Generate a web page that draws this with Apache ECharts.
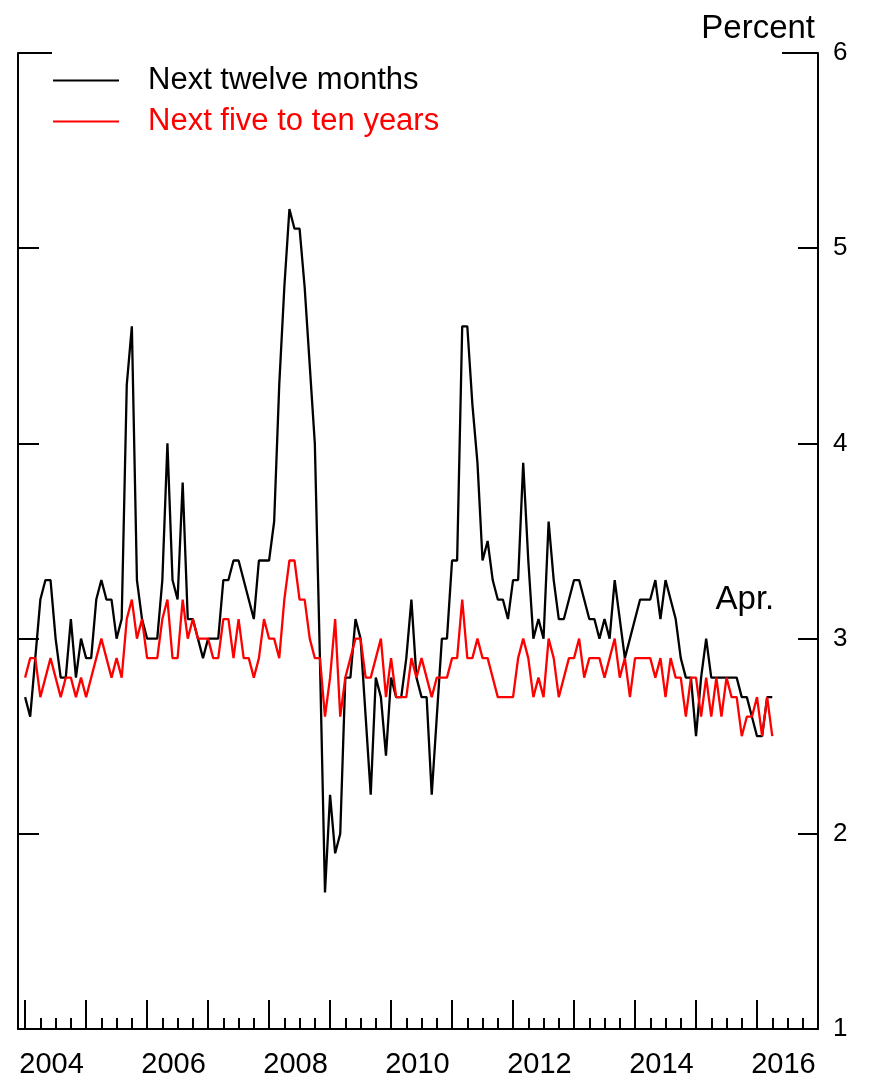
<!DOCTYPE html>
<html>
<head>
<meta charset="utf-8">
<script src="https://cdn.jsdelivr.net/npm/echarts@6/dist/echarts.min.js"></script>
<style>
html,body{margin:0;padding:0;background:#fff;}
#chart{width:869px;height:1082px;}
</style>
</head>
<body>
<div id="chart"></div>
<script>
// ---- data (monthly, starting January 2004) ----
const startYear = 2004;
const seriesNames = ['Next twelve months', 'Next five to ten years'];
const yearLabels = ['2004', '2006', '2008', '2010', '2012', '2014', '2016'];
const yTicks = [1, 2, 3, 4, 5, 6];
const endNote = 'Apr.';
const unitLabel = 'Percent';

const nextTwelveMonths = [
  2.7, 2.6, 2.9, 3.2, 3.3, 3.3, 3.0, 2.8, 2.8, 3.1, 2.8, 3.0,   // 2004
  2.9, 2.9, 3.2, 3.3, 3.2, 3.2, 3.0, 3.1, 4.3, 4.6, 3.3, 3.1,   // 2005
  3.0, 3.0, 3.0, 3.3, 4.0, 3.3, 3.2, 3.8, 3.1, 3.1, 3.0, 2.9,   // 2006
  3.0, 3.0, 3.0, 3.3, 3.3, 3.4, 3.4, 3.3, 3.2, 3.1, 3.4, 3.4,   // 2007
  3.4, 3.6, 4.3, 4.8, 5.2, 5.1, 5.1, 4.8, 4.4, 4.0, 2.9, 1.7,   // 2008
  2.2, 1.9, 2.0, 2.8, 2.8, 3.1, 3.0, 2.6, 2.2, 2.8, 2.7, 2.4,   // 2009
  2.8, 2.7, 2.7, 2.9, 3.2, 2.8, 2.7, 2.7, 2.2, 2.6, 3.0, 3.0,   // 2010
  3.4, 3.4, 4.6, 4.6, 4.2, 3.9, 3.4, 3.5, 3.3, 3.2, 3.2, 3.1,   // 2011
  3.3, 3.3, 3.9, 3.4, 3.0, 3.1, 3.0, 3.6, 3.3, 3.1, 3.1, 3.2,   // 2012
  3.3, 3.3, 3.2, 3.1, 3.1, 3.0, 3.1, 3.0, 3.3, 3.1, 2.9, 3.0,   // 2013
  3.1, 3.2, 3.2, 3.2, 3.3, 3.1, 3.3, 3.2, 3.1, 2.9, 2.8, 2.8,   // 2014
  2.5, 2.8, 3.0, 2.8, 2.8, 2.8, 2.8, 2.8, 2.8, 2.7, 2.7, 2.6,   // 2015
  2.5, 2.5, 2.7, 2.7                                            // 2016
];

const nextFiveToTenYears = [
  2.8, 2.9, 2.9, 2.7, 2.8, 2.9, 2.8, 2.7, 2.8, 2.8, 2.7, 2.8,   // 2004
  2.7, 2.8, 2.9, 3.0, 2.9, 2.8, 2.9, 2.8, 3.1, 3.2, 3.0, 3.1,   // 2005
  2.9, 2.9, 2.9, 3.1, 3.2, 2.9, 2.9, 3.2, 3.0, 3.1, 3.0, 3.0,   // 2006
  3.0, 2.9, 2.9, 3.1, 3.1, 2.9, 3.1, 2.9, 2.9, 2.8, 2.9, 3.1,   // 2007
  3.0, 3.0, 2.9, 3.2, 3.4, 3.4, 3.2, 3.2, 3.0, 2.9, 2.9, 2.6,   // 2008
  2.8, 3.1, 2.6, 2.8, 2.9, 3.0, 3.0, 2.8, 2.8, 2.9, 3.0, 2.7,   // 2009
  2.9, 2.7, 2.7, 2.7, 2.9, 2.8, 2.9, 2.8, 2.7, 2.8, 2.8, 2.8,   // 2010
  2.9, 2.9, 3.2, 2.9, 2.9, 3.0, 2.9, 2.9, 2.8, 2.7, 2.7, 2.7,   // 2011
  2.7, 2.9, 3.0, 2.9, 2.7, 2.8, 2.7, 3.0, 2.9, 2.7, 2.8, 2.9,   // 2012
  2.9, 3.0, 2.8, 2.9, 2.9, 2.9, 2.8, 2.9, 3.0, 2.8, 2.9, 2.7,   // 2013
  2.9, 2.9, 2.9, 2.9, 2.8, 2.9, 2.7, 2.9, 2.8, 2.8, 2.6, 2.8,   // 2014
  2.8, 2.6, 2.8, 2.6, 2.8, 2.6, 2.8, 2.7, 2.7, 2.5, 2.6, 2.6,   // 2015
  2.7, 2.5, 2.7, 2.5                                            // 2016
];

// ---- layout ----
const FONT = "'Liberation Sans', Arial, sans-serif";
const grid = { left: 18, right: 51, top: 53, bottom: 53, outerBoundsMode: 'none', containLabel: false };
const xMin = -1.4, xMax = (yearLabels.length * 2 - 1) * 12; // end of last labelled year

const yearBounds = [];
for (let m = 0; m <= xMax; m += 12) yearBounds.push(m);
const quarterTicks = [];
for (let m = 0; m <= xMax; m += 3) if (m % 12 !== 0) quarterTicks.push(m);
const LABEL_OFFSET = 5.2;
const labelPos = yearLabels.map(y => (parseInt(y, 10) - startYear) * 12 + LABEL_OFFSET);

const toPairs = arr => arr.map((v, i) => [i, v]);

const chart = echarts.init(document.getElementById('chart'), null, { renderer: 'canvas' });

const axisLineStyle = { color: '#000', width: 2 };

const option = {
  backgroundColor: '#fff',
  animation: false,
  textStyle: { fontFamily: FONT },
  grid: grid,
  legend: {
    orient: 'vertical',
    left: 53,
    top: 64,
    padding: 0,
    itemWidth: 66,
    itemHeight: 2,
    itemGap: 8,
    icon: 'rect',
    selectedMode: false,
    data: [
      { name: seriesNames[0], textStyle: { color: '#000' } },
      { name: seriesNames[1], textStyle: { color: '#ff0000' } }
    ],
    textStyle: { fontSize: 31, fontFamily: FONT, lineHeight: 30, padding: [3, 0, 0, 24] }
  },
  xAxis: [
    {
      type: 'value', min: xMin, max: xMax, position: 'bottom',
      axisLine: { show: true, onZero: false, lineStyle: axisLineStyle },
      axisTick: { show: true, inside: true, length: 29, lineStyle: { color: '#000', width: 2 }, customValues: yearBounds },
      axisLabel: {
        show: true, customValues: labelPos, margin: 21,
        color: '#000', fontSize: 29, fontFamily: FONT,
        formatter: v => String(startYear + Math.round((v - LABEL_OFFSET) / 12))
      },
      splitLine: { show: false }
    },
    {
      type: 'value', min: xMin, max: xMax, position: 'bottom', offset: 0,
      axisLine: { show: false, onZero: false },
      axisTick: { show: true, inside: true, length: 11, lineStyle: { color: '#000', width: 2 }, customValues: quarterTicks },
      axisLabel: { show: false },
      splitLine: { show: false }
    }
  ],
  yAxis: [
    {
      type: 'value', min: 1, max: 6, interval: 1, position: 'right',
      name: unitLabel, nameLocation: 'end', nameGap: 24,
      nameTextStyle: { color: '#000', fontSize: 33, fontFamily: FONT, align: 'right', verticalAlign: 'middle', padding: [0, 3, 0, 0] },
      axisLine: { show: true, onZero: false, lineStyle: axisLineStyle },
      axisTick: { show: true, inside: true, length: 20, lineStyle: { color: '#000', width: 2 } },
      axisLabel: { show: true, margin: 15, color: '#000', fontSize: 26, fontFamily: FONT, formatter: v => String(v) },
      splitLine: { show: false }
    },
    {
      type: 'value', min: 1, max: 6, interval: 1, position: 'left',
      axisLine: { show: true, onZero: false, lineStyle: axisLineStyle },
      axisTick: { show: true, inside: true, length: 21, lineStyle: { color: '#000', width: 2 } },
      axisLabel: { show: false },
      splitLine: { show: false }
    }
  ],
  series: [
    {
      name: seriesNames[0], type: 'line', xAxisIndex: 0, yAxisIndex: 0,
      data: toPairs(nextTwelveMonths), symbol: 'none', showSymbol: false,
      lineStyle: { color: '#000', width: 2.3 }, itemStyle: { color: '#000' }, z: 3
    },
    {
      name: seriesNames[1], type: 'line', xAxisIndex: 0, yAxisIndex: 0,
      data: toPairs(nextFiveToTenYears), symbol: 'none', showSymbol: false,
      lineStyle: { color: '#ff0000', width: 2.3 }, itemStyle: { color: '#ff0000' }, z: 4
    }
  ]
};

chart.setOption(option);

// Frame corner stubs at the top and the "Apr." note, placed from the axes' scales
const tl = chart.convertToPixel({ xAxisIndex: 0, yAxisIndex: 0 }, [xMin, 6]);
const tr = chart.convertToPixel({ xAxisIndex: 0, yAxisIndex: 0 }, [xMax, 6]);
const note = chart.convertToPixel({ xAxisIndex: 0, yAxisIndex: 0 }, [nextTwelveMonths.length - 1, 3.2]);
chart.setOption({
  graphic: [
    { type: 'line', shape: { x1: tl[0], y1: tl[1], x2: tl[0] + 34, y2: tl[1] }, style: { stroke: '#000', lineWidth: 2 }, z: 10 },
    { type: 'line', shape: { x1: tr[0] - 36, y1: tr[1], x2: tr[0], y2: tr[1] }, style: { stroke: '#000', lineWidth: 2 }, z: 10 },
    { type: 'text', x: note[0] + 2, y: note[1], style: { text: endNote, fill: '#000', fontSize: 33, fontFamily: FONT, textAlign: 'right', textVerticalAlign: 'middle' }, z: 10 }
  ]
});
</script>
</body>
</html>
